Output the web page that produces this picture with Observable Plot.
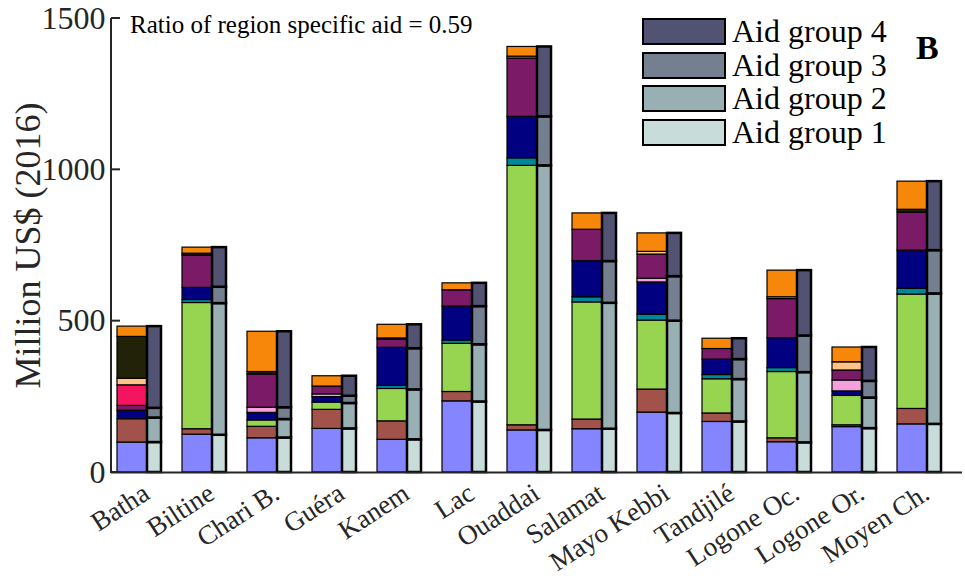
<!DOCTYPE html>
<html><head><meta charset="utf-8">
<script src="https://cdn.jsdelivr.net/npm/d3@7"></script>
<script src="https://cdn.jsdelivr.net/npm/@observablehq/plot@0.6"></script>
<style>
body{margin:0;background:#fff}
#wrap{position:relative;width:965px;height:578px;font-family:"Liberation Serif","Times New Roman",serif;color:#262626}
.ov{position:absolute;white-space:nowrap;line-height:1}
.lbox{position:absolute;box-sizing:border-box;border:2.5px solid #000;width:84px;height:27px}
</style>
</head><body><div id="wrap"></div>
<script>
const regions = ["Batha","Biltine","Chari B.","Guéra","Kanem","Lac","Ouaddai","Salamat","Mayo Kebbi","Tandjilé","Logone Oc.","Logone Or.","Moyen Ch."];

// sector components (wide bars), stacked bottom to top
const blue      = [99,125,113,144,108,235,139,143,198,167,100,150,159];
const brown     = [77,18,38,63,61,31,17,32,76,28,13,6,51];
const green     = [0,417,21,24,107,159,857,387,228,113,219,97,378];
const teal      = [0,10,0,0,10,11,25,17,19,14,13,0,19];
const navy      = [28,40,25,18,126,112,137,119,107,51,99,15,126];
const lightpink = [0,0,17,9,0,0,0,0,12,0,0,36,0];
const purple    = [16,107,110,26,27,54,193,104,80,35,129,33,126];
const crimson   = [68,0,0,0,0,0,0,0,0,0,0,0,0];
const peach     = [22,0,0,0,0,0,6,0,9,0,6,27,0];
const darkolive = [138,6,8,0,4,0,0,0,0,0,0,0,9];
const orange    = [34,20,133,34,45,23,32,54,61,34,88,49,93];

// aid groups (narrow bars)
const aidGroup1 = [99,123,114,144,108,233,139,143,195,167,98,145,159];
const aidGroup2 = [81,435,61,84,165,189,874,416,305,140,232,101,431];
const aidGroup3 = [32,54,39,24,136,126,162,138,147,66,121,55,143];
const aidGroup4 = [270,131,251,66,79,77,231,159,143,69,216,112,228];

const yTicks = [0,500,1000,1500];
const yLabel = "Million US$ (2016)";
const ratioText = "Ratio of region specific aid = 0.59";
const panelLetter = "B";

const sectorNames = ["blue","brown","green","teal","navy","lightpink","purple","crimson","peach","darkolive","orange"];
const sectorSeries = [blue,brown,green,teal,navy,lightpink,purple,crimson,peach,darkolive,orange];
const sectorColors = ["#8585FF","#A1524A","#97D44F","#00889A","#000080","#F3A0DC","#7B1B67","#F5145F","#FFC387","#222209","#F7870A"];
const aidNames = ["Aid group 1","Aid group 2","Aid group 3","Aid group 4"];
const aidSeries = [aidGroup1,aidGroup2,aidGroup3,aidGroup4];
const aidColors = ["#C8DCDA","#98AFB4","#748090","#525272"];

const wide = [];
sectorSeries.forEach((s,k)=>s.forEach((v,i)=>{ if(v>0) wide.push({region:regions[i],cat:sectorNames[k],value:v}); }));
const narrow = [];
aidSeries.forEach((s,k)=>s.forEach((v,i)=>{ if(v>0) narrow.push({region:regions[i],group:aidNames[k],value:v}); }));

const FONT = "Liberation Serif, Times New Roman, serif";
const W=965,H=578,mL=111,mR=3,mT=18,mB=106;
const chart = Plot.plot({
  width:W, height:H, marginLeft:mL, marginRight:mR, marginTop:mT, marginBottom:mB,
  style:{fontFamily:FONT, color:"#262626", background:"white", overflow:"visible"},
  x:{type:"band", domain:regions, paddingInner:0.326, paddingOuter:0.181, align:0.212, axis:null},
  y:{domain:[0,1500]},
  color:{domain:[...sectorNames,...aidNames], range:[...sectorColors,...aidColors]},
  marks:[
    Plot.barY(wide,{x:"region",y:"value",z:"cat",fill:"cat",order:sectorNames,insetRight:14,stroke:"#000",strokeWidth:1.2}),
    Plot.barY(narrow,{x:"region",y:"value",z:"group",fill:"group",order:aidNames,insetLeft:30,stroke:"#000",strokeWidth:2.5}),
    Plot.ruleY([0],{stroke:"#262626",strokeWidth:2}),
    Plot.axisY({ticks:yTicks, tickSize:0, tickPadding:6, fontSize:32, fontFamily:FONT, tickFormat:d=>String(d), label:null}),
    Plot.text(regions,{x:d=>d, y:()=>0, dx:7, dy:18, rotate:-33, textAnchor:"end", lineAnchor:"middle", fontSize:27, fontFamily:FONT, fill:"#262626"}),
    Plot.text([yLabel],{frameAnchor:"left", dx:-83, rotate:-90, textAnchor:"middle", lineAnchor:"middle", fontSize:36, fontFamily:FONT, fill:"#262626"})
  ]
});
const ys = chart.scale("y");
const svg = d3.select(chart);
svg.append("line").attr("x1",mL).attr("x2",mL).attr("y1",ys.apply(0)+1).attr("y2",ys.apply(1500)).attr("stroke","#262626").attr("stroke-width",2);
yTicks.forEach(t=>svg.append("line").attr("x1",mL).attr("x2",mL+9).attr("y1",ys.apply(t)).attr("y2",ys.apply(t)).attr("stroke","#262626").attr("stroke-width",2));

const wrap = document.getElementById("wrap");
wrap.appendChild(chart);
chart.style.position="absolute"; chart.style.left="0"; chart.style.top="0";

function ov(text, left, top, size, extra){
  const d=document.createElement("div"); d.className="ov"; d.textContent=text;
  d.style.left=left+"px"; d.style.top=top+"px"; d.style.fontSize=size+"px";
  if(extra) Object.assign(d.style, extra);
  wrap.appendChild(d); return d;
}
ov(ratioText, 130, 12, 25, {color:"#000"});
ov(panelLetter, 916, 31, 34, {fontWeight:"bold", color:"#000"});
const legendOrder = [3,2,1,0];
legendOrder.forEach((k,j)=>{
  const top = 18 + j*33.7;
  const b=document.createElement("div"); b.className="lbox";
  b.style.left="642px"; b.style.top=top+"px"; b.style.background=aidColors[k];
  wrap.appendChild(b);
  ov(aidNames[k], 732, top-3, 32, {color:"#000"});
});
</script></body></html>
